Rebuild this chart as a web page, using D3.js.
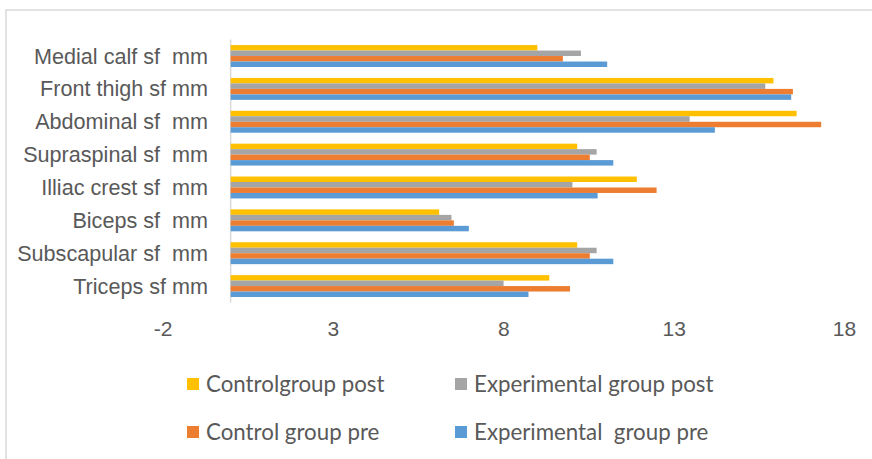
<!DOCTYPE html>
<html><head><meta charset="utf-8">
<script src="https://cdn.jsdelivr.net/npm/d3@7"></script>
<style>
body{margin:0;background:#fff;}
svg{display:block;font-family:"Lato","Open Sans",sans-serif;}
</style></head>
<body>
<svg id="c" width="872" height="459"></svg>
<script>
const categories = ["Medial calf sf  mm","Front thigh sf mm","Abdominal sf  mm","Supraspinal sf  mm","Illiac crest sf  mm","Biceps sf  mm","Subscapular sf  mm","Triceps sf mm"];
const seriesNames = ["Controlgroup post","Experimental group post","Control group pre","Experimental  group pre"];
const seriesColors = ["#FFC000","#A5A5A5","#ED7D31","#5B9BD5"];
const controlPost      = [9.0, 15.93, 16.61, 10.17, 11.92, 6.12, 10.17, 9.35];
const experimentalPost = [10.28, 15.69, 13.47, 10.74, 10.03, 6.48, 10.74, 8.01];
const controlPre       = [9.75, 16.50, 17.33, 10.54, 12.50, 6.55, 10.54, 9.96];
const experimentalPre  = [11.05, 16.45, 14.21, 11.23, 10.77, 6.99, 11.23, 8.74];
const tickValues = [-2, 3, 8, 13, 18];

const seriesValues = [controlPost, experimentalPost, controlPre, experimentalPre];
const svg = d3.select("#c");

// outer frame
svg.append("rect").attr("x",6).attr("y",10).attr("width",900).attr("height",500)
  .attr("fill","none").attr("stroke","#d9d9d9").attr("stroke-width",1.5);

const x = d3.scaleLinear().domain([-2,18]).range([162.5,844]);
const y = d3.scaleBand().domain(categories).range([39.6,302.5]).paddingInner(0.333).paddingOuter(0.1665);
const ys = d3.scaleBand().domain(seriesNames).range([0,y.bandwidth()]);

// zero line
svg.append("line").attr("x1",x(0)).attr("x2",x(0)).attr("y1",39.6).attr("y2",302.5)
  .attr("stroke","#d9d9d9").attr("stroke-width",1.5);

const g = svg.append("g");
seriesNames.forEach((s,si)=>{
  g.selectAll(null).data(seriesValues[si]).enter().append("rect")
    .attr("x", d=>Math.min(x(0),x(d)))
    .attr("width", d=>Math.abs(x(d)-x(0)))
    .attr("y",(d,i)=>y(categories[i])+ys(s))
    .attr("height",ys.bandwidth())
    .attr("fill",seriesColors[si]);
});

// category labels
const yAxis = d3.axisLeft(y).tickSize(0).tickPadding(0);
const ya = svg.append("g").attr("transform",`translate(208,0)`).call(yAxis);
ya.select(".domain").remove();
ya.selectAll("text").attr("fill","#595959").style("font-size","21.6px").style("white-space","pre")
  .attr("dy","0.35em");

// x axis tick labels
const xAxis = d3.axisBottom(x).tickValues(tickValues).tickSize(0).tickPadding(0).tickFormat(d=>String(d));
const xa = svg.append("g").attr("transform",`translate(0,321)`).call(xAxis);
xa.select(".domain").remove();
xa.selectAll("text").attr("fill","#595959").style("font-size","21px").attr("dy","0.71em");

// legend
const legPos = [[187,384],[455,384],[187,432],[455,432]];
seriesNames.forEach((s,i)=>{
  const lg = svg.append("g").attr("transform",`translate(${legPos[i][0]},${legPos[i][1]})`);
  lg.append("rect").attr("x",0).attr("y",-6).attr("width",12).attr("height",12).attr("fill",seriesColors[i]);
  lg.append("text").attr("x",19).attr("y",0).attr("dy","0.35em").attr("fill","#595959")
    .style("font-size","22.3px").style("white-space","pre").text(s);
});
</script>
</body></html>
